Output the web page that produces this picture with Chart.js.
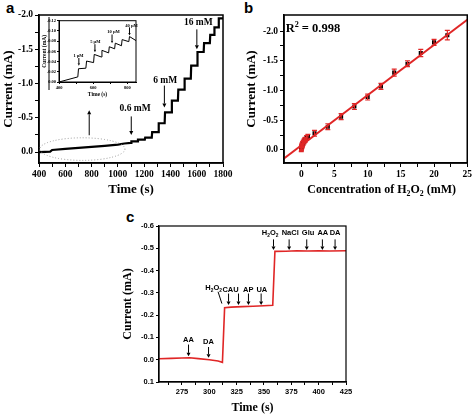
<!DOCTYPE html>
<html>
<head>
<meta charset="utf-8">
<script src="https://cdn.jsdelivr.net/npm/chart.js@4.4.1/dist/chart.umd.min.js"></script>
<style>
html, body { margin: 0; padding: 0; background: #fff; }
body { width: 474px; height: 415px; position: relative; overflow: hidden; }
canvas { position: absolute; }
.tag { position: absolute; font: bold 15px "Liberation Sans", Arial, sans-serif; color: #000; line-height: 15px; }
</style>
</head>
<body>
<div class="tag" style="left:6px;top:0px">a</div>
<div class="tag" style="left:244px;top:0px">b</div>
<div class="tag" style="left:126px;top:209px">c</div>
<canvas id="chartA" width="237" height="200" style="left:0;top:0"></canvas>
<canvas id="chartB" width="237" height="200" style="left:237px;top:0"></canvas>
<canvas id="chartC" width="260" height="215" style="left:100px;top:200px"></canvas>
<canvas id="chartInset" width="98" height="83" style="left:40px;top:17px;background:#fff"></canvas>
<script>
const SERIF = '"Liberation Serif", "Times New Roman", serif';
const SANS = '"Liberation Sans", Arial, sans-serif';
const RED = '#e02626';

// ---- panel a : amperometric trace, time (s) vs current (mA)
const baseTimeA = [400, 485, 500, 600, 700, 800, 900, 1000, 1050, 1098];
const baseCurrA = [0.0, -0.005, -0.03, -0.045, -0.06, -0.075, -0.09, -0.108, -0.125, -0.135];
const stepTimeA = [1100, 1150, 1205, 1258, 1308, 1356, 1408, 1457, 1505, 1555, 1603, 1653, 1700, 1732, 1765];
const stepCurrA = [-0.155, -0.18, -0.21, -0.29, -0.42, -0.58, -0.75, -0.91, -1.07, -1.26, -1.46, -1.59, -1.71, -1.82, -1.95];
const endTimeA = 1800;
const xTicksA = [400, 500, 600, 700, 800, 900, 1000, 1100, 1200, 1300, 1400, 1500, 1600, 1700, 1800];
const xLabelsA = [400, 600, 800, 1000, 1200, 1400, 1600, 1800];
const yTicksA = [-2.0, -1.75, -1.5, -1.25, -1.0, -0.75, -0.5, -0.25, 0.0];
const yLabelsA = [-2.0, -1.5, -1.0, -0.5, 0.0];

// ---- inset of panel a : low concentration steps
const insetTime = [400, 510, 514, 557, 561, 602, 606, 647, 651, 690, 694, 725, 729, 765, 769, 808, 812, 850];
const insetCurr = [0.0, -0.010, -0.026, -0.027, -0.041, -0.038, -0.054, -0.049, -0.062, -0.057, -0.069, -0.065, -0.076, -0.071, -0.083, -0.079, -0.089, -0.081];
const xTicksInset = [400, 500, 600, 700, 800];
const xLabelsInset = [400, 600, 800];
const yTicksInset = [-0.12, -0.10, -0.08, -0.06, -0.04, -0.02, 0.0];

// ---- panel b : calibration, concentration (mM) vs current (mA)
const concB = [0, 0.02, 0.05, 0.1, 0.15, 0.2, 0.3, 0.4, 0.5, 0.6, 0.8, 1, 2, 4, 6, 8, 10, 12, 14, 16, 18, 20, 22];
const currB = [-0.01, -0.03, -0.05, -0.07, -0.08, -0.1, -0.12, -0.14, -0.16, -0.17, -0.2, -0.22, -0.28, -0.39, -0.56, -0.73, -0.89, -1.07, -1.30, -1.45, -1.63, -1.81, -1.93];
const errB = [0.04, 0.04, 0.04, 0.04, 0.04, 0.04, 0.04, 0.04, 0.04, 0.04, 0.04, 0.04, 0.05, 0.05, 0.05, 0.05, 0.05, 0.05, 0.06, 0.05, 0.06, 0.05, 0.08];
const fitXB = [-2.6, 25];
const fitYB = [0.145, -2.19];
const xTicksB = [0, 2.5, 5, 7.5, 10, 12.5, 15, 17.5, 20, 22.5, 25];
const xLabelsB = [0, 5, 10, 15, 20, 25];
const yTicksB = [-2.0, -1.75, -1.5, -1.25, -1.0, -0.75, -0.5, -0.25, 0.0];
const yLabelsB = [-2.0, -1.5, -1.0, -0.5, 0.0];

// ---- panel c : interference test
const timeC = [254, 265, 275, 282, 290, 300, 308, 312, 314, 320, 330, 340, 350, 358, 360, 370, 380, 390, 400, 410, 425];
const currC = [-0.004, -0.006, -0.008, -0.009, -0.005, 0.0, 0.006, 0.012, -0.233, -0.236, -0.238, -0.240, -0.242, -0.244, -0.486, -0.487, -0.489, -0.488, -0.489, -0.488, -0.489];
const xTicksC = [262.5, 275, 287.5, 300, 312.5, 325, 337.5, 350, 362.5, 375, 387.5, 400, 412.5, 425];
const xLabelsC = [275, 300, 325, 350, 375, 400, 425];
const yTicksC = [-0.6, -0.5, -0.4, -0.3, -0.2, -0.1, 0.0, 0.1];

function pts(xs, ys) { return xs.map((x, i) => ({x: x, y: ys[i]})); }

// step trace for panel a built from the read step times / levels
const traceA = pts(baseTimeA, baseCurrA);
let lastA = baseCurrA[baseCurrA.length - 1];
stepTimeA.forEach((t, i) => {
  traceA.push({x: t, y: lastA});
  traceA.push({x: t + 3, y: stepCurrA[i]});
  lastA = stepCurrA[i];
});
traceA.push({x: endTimeA, y: lastA});

// text with _x subscripts and ^x superscripts
function richText(ctx, str, x, y, size, family, align) {
  const parts = [];
  for (let i = 0; i < str.length; i++) {
    const c = str[i];
    if ((c === '_' || c === '^') && i + 1 < str.length) { parts.push({t: str[i + 1], k: c}); i++; }
    else parts.push({t: c, k: ''});
  }
  const small = size * 0.65;
  let w = 0;
  parts.forEach(p => {
    ctx.font = 'bold ' + (p.k ? small : size) + 'px ' + family;
    p.w = ctx.measureText(p.t).width;
    w += p.w;
  });
  let cx = align === 'center' ? x - w / 2 : x;
  ctx.textAlign = 'left';
  ctx.textBaseline = 'middle';
  parts.forEach(p => {
    ctx.font = 'bold ' + (p.k ? small : size) + 'px ' + family;
    const dy = p.k === '_' ? size * 0.3 : (p.k === '^' ? -size * 0.35 : 0);
    ctx.fillText(p.t, cx, y + dy);
    cx += p.w;
  });
}

function framePlugin(w) {
  return {
    id: 'frame',
    afterDraw(chart) {
      const a = chart.chartArea, ctx = chart.ctx;
      ctx.save();
      ctx.strokeStyle = '#000';
      ctx.lineWidth = w;
      ctx.strokeRect(a.left, a.top, a.right - a.left, a.bottom - a.top);
      ctx.restore();
    }
  };
}

// annotations placed in data coordinates
function notesPlugin(items) {
  return {
    id: 'notes',
    afterDraw(chart) {
      const ctx = chart.ctx, sx = chart.scales.x, sy = chart.scales.y;
      ctx.save();
      ctx.fillStyle = '#000';
      ctx.strokeStyle = '#000';
      items.forEach(it => {
        if (it.type === 'text') {
          richText(ctx, it.text, sx.getPixelForValue(it.x), sy.getPixelForValue(it.y), it.size, it.family, it.align || 'center');
        } else if (it.type === 'arrow') {
          const px = sx.getPixelForValue(it.x);
          const p1 = sy.getPixelForValue(it.y1), p2 = sy.getPixelForValue(it.y2);
          const dir = p2 > p1 ? 1 : -1;
          const hl = it.head || 4, hw = it.hw || 2;
          ctx.lineWidth = it.lw || 1;
          ctx.beginPath();
          ctx.moveTo(px, p1);
          ctx.lineTo(px, p2 - dir * hl);
          ctx.stroke();
          ctx.beginPath();
          ctx.moveTo(px - hw, p2 - dir * hl);
          ctx.lineTo(px + hw, p2 - dir * hl);
          ctx.lineTo(px, p2);
          ctx.closePath();
          ctx.fill();
        } else if (it.type === 'seg') {
          ctx.lineWidth = it.lw || 1;
          ctx.beginPath();
          ctx.moveTo(sx.getPixelForValue(it.x1), sy.getPixelForValue(it.y1));
          ctx.lineTo(sx.getPixelForValue(it.x2), sy.getPixelForValue(it.y2));
          ctx.stroke();
        } else if (it.type === 'ellipse') {
          const cx = sx.getPixelForValue(it.cx), cy = sy.getPixelForValue(it.cy);
          const rx = Math.abs(sx.getPixelForValue(it.cx + it.rx) - cx);
          const ry = Math.abs(sy.getPixelForValue(it.cy + it.ry) - cy);
          ctx.strokeStyle = '#9a9a9a';
          ctx.lineWidth = 1;
          ctx.setLineDash([1, 2]);
          ctx.beginPath();
          ctx.ellipse(cx, cy, rx, ry, 0, 0, Math.PI * 2);
          ctx.stroke();
          ctx.setLineDash([]);
          ctx.strokeStyle = '#000';
        } else if (it.type === 'vline') {
          ctx.lineWidth = 1;
          ctx.beginPath();
          ctx.moveTo(it.px, it.top);
          ctx.lineTo(it.px, it.bottom);
          ctx.stroke();
        }
      });
      ctx.restore();
    }
  };
}

function axis(o) {
  return {
    type: 'linear',
    position: o.pos,
    min: o.min,
    max: o.max,
    reverse: !!o.reverse,
    afterBuildTicks: s => { s.ticks = o.ticks.map(v => ({value: v})); },
    afterFit: s => { if (o.pos === 'left') s.width = o.size; else s.height = o.size; },
    ticks: {
      autoSkip: false,
      maxRotation: 0,
      padding: o.pad,
      color: '#000',
      font: {family: o.family, weight: 'bold', size: o.fontSize},
      callback: v => (o.labels.indexOf(v) >= 0 ? v.toFixed(o.dec) : '')
    },
    grid: {display: true, drawOnChartArea: false, drawTicks: true, tickLength: o.tickLen, color: '#000', lineWidth: 1},
    border: {display: true, color: '#000', width: o.border},
    title: o.title ? {
      display: true, text: o.title, color: '#000',
      font: {family: SERIF, weight: 'bold', size: o.titleSize},
      padding: {top: o.titlePad, bottom: o.titlePad}
    } : {display: false}
  };
}

function baseOptions(padding, xAxis, yAxis) {
  return {
    responsive: false,
    animation: false,
    devicePixelRatio: 1,
    events: [],
    layout: {padding: padding},
    plugins: {legend: {display: false}, tooltip: {enabled: false}},
    scales: {x: xAxis, y: yAxis}
  };
}

// panel a
new Chart(document.getElementById('chartA'), {
  type: 'scatter',
  data: {datasets: [{data: traceA, showLine: true, borderColor: '#000', borderWidth: 2.2, pointRadius: 0, tension: 0}]},
  options: baseOptions({top: 15, right: 14, left: 0, bottom: 0},
    axis({pos: 'bottom', min: 400, max: 1800, ticks: xTicksA, labels: xLabelsA, dec: 0, size: 37, pad: 2, family: SERIF, fontSize: 9.5, tickLen: 4, border: 1.5, title: 'Time (s)', titleSize: 13, titlePad: 2.2}),
    axis({pos: 'left', min: -2.0, max: 0.16, reverse: true, ticks: yTicksA, labels: yLabelsA, dec: 1, size: 39, pad: 2, family: SERIF, fontSize: 9.5, tickLen: 4, border: 1.5, title: 'Current (mA)', titleSize: 13, titlePad: 0.5})),
  plugins: [framePlugin(1.5), notesPlugin([
    {type: 'ellipse', cx: 730, cy: -0.043, rx: 324, ry: 0.165},
    {type: 'arrow', x: 782, y1: -0.245, y2: -0.61},
    {type: 'text', text: '0.6 mM', x: 1131, y: -0.64, size: 9.5, family: SERIF},
    {type: 'arrow', x: 1102, y1: -0.52, y2: -0.25},
    {type: 'text', text: '6 mM', x: 1360, y: -1.05, size: 9.5, family: SERIF},
    {type: 'arrow', x: 1354, y1: -0.97, y2: -0.65},
    {type: 'text', text: '16 mM', x: 1612, y: -1.89, size: 9.5, family: SERIF},
    {type: 'arrow', x: 1601, y1: -1.79, y2: -1.50}
  ])]
});

// inset
new Chart(document.getElementById('chartInset'), {
  type: 'scatter',
  data: {datasets: [{data: pts(insetTime, insetCurr), showLine: true, borderColor: '#000', borderWidth: 1, pointRadius: 0, tension: 0}]},
  options: baseOptions({top: 1, right: 2, left: 0, bottom: 0},
    axis({pos: 'bottom', min: 400, max: 850, ticks: xTicksInset, labels: xLabelsInset, dec: 0, size: 18, pad: 1, family: SERIF, fontSize: 4.5, tickLen: 2, border: 1, title: 'Time (s)', titleSize: 5.5, titlePad: 1.7}),
    axis({pos: 'left', min: -0.12, max: 0.0, reverse: true, ticks: yTicksInset, labels: yTicksInset, dec: 2, size: 19, pad: 1, family: SERIF, fontSize: 4.5, tickLen: 2, border: 1, title: 'Current (mA)', titleSize: 5.5, titlePad: 1.7})),
  plugins: [framePlugin(1), notesPlugin([
    {type: 'vline', px: 9, top: 0, bottom: 73},
    {type: 'text', text: '1 µM', x: 514, y: -0.052, size: 4.5, family: SERIF},
    {type: 'arrow', x: 516, y1: -0.047, y2: -0.032, head: 2.5, hw: 1.2},
    {type: 'text', text: '5 µM', x: 612, y: -0.079, size: 4.5, family: SERIF},
    {type: 'arrow', x: 610, y1: -0.074, y2: -0.058, head: 2.5, hw: 1.2},
    {type: 'text', text: '10 µM', x: 719, y: -0.0975, size: 4.5, family: SERIF},
    {type: 'arrow', x: 710, y1: -0.093, y2: -0.076, head: 2.5, hw: 1.2},
    {type: 'text', text: '40 µM', x: 824, y: -0.110, size: 4.5, family: SERIF},
    {type: 'arrow', x: 812, y1: -0.107, y2: -0.091, head: 2.5, hw: 1.2}
  ])]
});

// panel b
const errorBars = {
  id: 'errorBars',
  afterDatasetsDraw(chart) {
    const ctx = chart.ctx, sx = chart.scales.x, sy = chart.scales.y;
    ctx.save();
    ctx.strokeStyle = RED;
    ctx.lineWidth = 1.2;
    concB.forEach((c, i) => {
      const px = sx.getPixelForValue(c);
      const a = sy.getPixelForValue(currB[i] - errB[i]);
      const b = sy.getPixelForValue(currB[i] + errB[i]);
      ctx.beginPath();
      ctx.moveTo(px, a); ctx.lineTo(px, b);
      ctx.moveTo(px - 2.5, a); ctx.lineTo(px + 2.5, a);
      ctx.moveTo(px - 2.5, b); ctx.lineTo(px + 2.5, b);
      ctx.stroke();
    });
    ctx.restore();
  }
};
new Chart(document.getElementById('chartB'), {
  type: 'scatter',
  data: {datasets: [
    {data: pts(fitXB, fitYB), showLine: true, borderColor: RED, borderWidth: 2, pointRadius: 0},
    {data: pts(concB, currB), pointStyle: 'rect', pointRadius: 2.9, backgroundColor: '#000', borderWidth: 0}
  ]},
  options: baseOptions({top: 15, right: 4, left: 0, bottom: 0},
    axis({pos: 'bottom', min: -2.6, max: 25, ticks: xTicksB, labels: xLabelsB, dec: 0, size: 37, pad: 2, family: SERIF, fontSize: 9.5, tickLen: 4, border: 1.5}),
    axis({pos: 'left', min: -2.27, max: 0.22, reverse: true, ticks: yTicksB, labels: yLabelsB, dec: 1, size: 47, pad: 2, family: SERIF, fontSize: 9.5, tickLen: 4, border: 1.5, title: 'Current (mA)', titleSize: 13, titlePad: 7})),
  plugins: [errorBars, framePlugin(1.5), {
    id: 'bTexts',
    afterDraw(chart) {
      const ctx = chart.ctx, a = chart.chartArea;
      ctx.save();
      ctx.fillStyle = '#000';
      richText(ctx, 'Concentration of H_2O_2 (mM)', (a.left + a.right) / 2 + 6, 190, 12, SERIF, 'center');
      richText(ctx, 'R^2 = 0.998', chart.scales.x.getPixelForValue(-2.35), chart.scales.y.getPixelForValue(-2.03), 12.5, SERIF, 'left');
      ctx.restore();
    }
  }]
});

// panel c
new Chart(document.getElementById('chartC'), {
  type: 'scatter',
  data: {datasets: [{data: pts(timeC, currC), showLine: true, borderColor: RED, borderWidth: 1.6, pointRadius: 0, tension: 0}]},
  options: baseOptions({top: 26, right: 14, left: 0, bottom: 0},
    axis({pos: 'bottom', min: 254, max: 425, ticks: xTicksC, labels: xLabelsC, dec: 0, size: 33, pad: 2, family: SANS, fontSize: 7.5, tickLen: 3, border: 1.2, title: 'Time (s)', titleSize: 12, titlePad: 0}),
    axis({pos: 'left', min: -0.6, max: 0.1, reverse: true, ticks: yTicksC, labels: yTicksC, dec: 1, size: 59, pad: 2, family: SANS, fontSize: 7.5, tickLen: 3, border: 1.2, title: 'Current (mA)', titleSize: 12, titlePad: 20.8})),
  plugins: [framePlugin(1.2), notesPlugin([
    {type: 'text', text: 'AA', x: 281, y: -0.087, size: 7.5, family: SANS},
    {type: 'arrow', x: 281, y1: -0.068, y2: -0.015, head: 3.5},
    {type: 'text', text: 'DA', x: 299.3, y: -0.08, size: 7.5, family: SANS},
    {type: 'arrow', x: 299.3, y1: -0.057, y2: -0.009, head: 3.5},
    {type: 'text', text: 'H_2O_2', x: 304, y: -0.32, size: 7.5, family: SANS},
    {type: 'seg', x1: 308, y1: -0.305, x2: 311.5, y2: -0.252},
    {type: 'text', text: 'CAU', x: 319.4, y: -0.315, size: 7.5, family: SANS},
    {type: 'arrow', x: 317.6, y1: -0.297, y2: -0.245, head: 3.5},
    {type: 'arrow', x: 326.7, y1: -0.297, y2: -0.245, head: 3.5},
    {type: 'text', text: 'AP', x: 335.6, y: -0.315, size: 7.5, family: SANS},
    {type: 'arrow', x: 335.8, y1: -0.297, y2: -0.245, head: 3.5},
    {type: 'text', text: 'UA', x: 348, y: -0.315, size: 7.5, family: SANS},
    {type: 'arrow', x: 347.4, y1: -0.297, y2: -0.245, head: 3.5},
    {type: 'text', text: 'H_2O_2', x: 355.6, y: -0.567, size: 7.5, family: SANS},
    {type: 'arrow', x: 358.7, y1: -0.54, y2: -0.492, head: 3.5},
    {type: 'text', text: 'NaCl', x: 374, y: -0.567, size: 7.5, family: SANS},
    {type: 'arrow', x: 373, y1: -0.54, y2: -0.492, head: 3.5},
    {type: 'text', text: 'Glu', x: 390.3, y: -0.567, size: 7.5, family: SANS},
    {type: 'arrow', x: 389.1, y1: -0.54, y2: -0.492, head: 3.5},
    {type: 'text', text: 'AA', x: 403.8, y: -0.567, size: 7.5, family: SANS},
    {type: 'arrow', x: 403.4, y1: -0.54, y2: -0.492, head: 3.5},
    {type: 'text', text: 'DA', x: 415, y: -0.567, size: 7.5, family: SANS},
    {type: 'arrow', x: 415, y1: -0.54, y2: -0.492, head: 3.5}
  ])]
});
</script>
</body>
</html>
